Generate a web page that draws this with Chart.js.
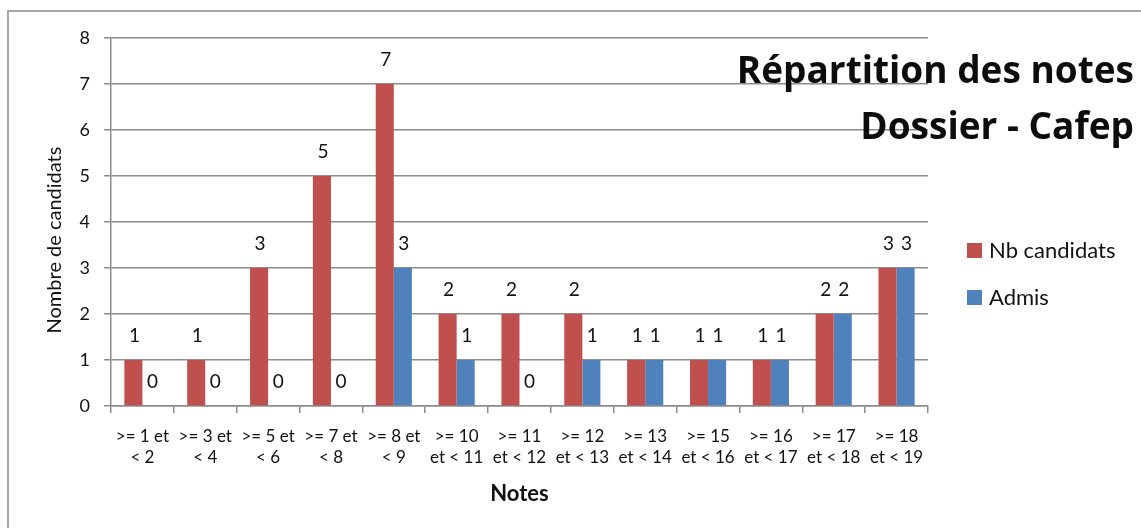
<!DOCTYPE html>
<html>
<head>
<meta charset="utf-8">
<script src="https://cdn.jsdelivr.net/npm/chart.js@4/dist/chart.umd.min.js"></script>
<style>
  html, body { margin: 0; padding: 0; background: #fff; }
  canvas { display: block; }
</style>
</head>
<body>
<canvas id="c" width="1141" height="528"></canvas>
<script>
// Grade bands (two-line labels)
const categories = [
  [">= 1 et", "< 2"],
  [">= 3 et", "< 4"],
  [">= 5 et", "< 6"],
  [">= 7 et", "< 8"],
  [">= 8 et", "< 9"],
  [">= 10", "et < 11"],
  [">= 11", "et < 12"],
  [">= 12", "et < 13"],
  [">= 13", "et < 14"],
  [">= 15", "et < 16"],
  [">= 16", "et < 17"],
  [">= 17", "et < 18"],
  [">= 18", "et < 19"]
];
const nbCandidats = [1, 1, 3, 5, 7, 2, 2, 2, 1, 1, 1, 2, 3];
const admis       = [0, 0, 0, 0, 3, 1, 0, 1, 1, 1, 1, 2, 3];
const yTicks = [0, 1, 2, 3, 4, 5, 6, 7, 8];
const seriesNames = ["Nb candidats", "Admis"];
const chartTitle = ["Répartition des notes", "Dossier - Cafep"];
const yAxisTitle = "Nombre de candidats";
const xAxisTitle = "Notes";

const RED = "#C0504D";
const BLUE = "#4F81BD";
const GRID = "#8c8c8c";
const TEXT = "#111111";
const FONT = "Lato, 'Open Sans', sans-serif";
const TITLE_FONT = "'Open Sans', Lato, sans-serif";

// Frame around the whole chart
const framePlugin = {
  id: "frame",
  beforeDraw(chart) {
    const ctx = chart.ctx;
    ctx.save();
    ctx.strokeStyle = "#a6a6a6";
    ctx.lineWidth = 2;
    ctx.strokeRect(8, 11, 1200, 600);
    ctx.restore();
  }
};

// Value labels above each bar
const valueLabels = {
  id: "valueLabels",
  afterDatasetsDraw(chart) {
    const ctx = chart.ctx;
    ctx.save();
    ctx.font = "19px " + FONT;
    ctx.fillStyle = TEXT;
    ctx.textAlign = "center";
    ctx.textBaseline = "middle";
    chart.data.datasets.forEach((ds, i) => {
      const meta = chart.getDatasetMeta(i);
      meta.data.forEach((bar, j) => {
        ctx.fillText(String(ds.data[j]), bar.x + 1, bar.y - 24);
      });
    });
    ctx.restore();
  }
};

// Title, legend and vertical axis title
const decorations = {
  id: "decorations",
  afterDraw(chart) {
    const ctx = chart.ctx;
    ctx.save();
    // title, right aligned over the plot
    ctx.font = "bold 37px " + TITLE_FONT;
    ctx.fillStyle = "#0d0d0d";
    ctx.textAlign = "right";
    ctx.textBaseline = "alphabetic";
    ctx.fillText(chartTitle[0], 1134, 83);
    ctx.fillText(chartTitle[1], 1134, 139);

    // legend
    const colors = [RED, BLUE];
    const ys = [251, 298];
    ctx.font = "22px " + FONT;
    ctx.textAlign = "left";
    ctx.textBaseline = "middle";
    chart.data.datasets.forEach((ds, i) => {
      ctx.fillStyle = colors[i];
      ctx.fillRect(967, ys[i] - 8, 15, 15);
      ctx.fillStyle = TEXT;
      ctx.fillText(ds.label, 989, ys[i]);
    });

    // y axis title
    ctx.translate(55, 240);
    ctx.rotate(-Math.PI / 2);
    ctx.textAlign = "center";
    ctx.textBaseline = "middle";
    ctx.font = "20px " + FONT;
    ctx.fillStyle = TEXT;
    ctx.fillText(yAxisTitle, 0, 0);
    ctx.restore();
  }
};

new Chart(document.getElementById("c"), {
  type: "bar",
  data: {
    labels: categories,
    datasets: [
      { label: seriesNames[0], data: nbCandidats, backgroundColor: RED,
        categoryPercentage: 0.575, barPercentage: 1.0, borderWidth: 0 },
      { label: seriesNames[1], data: admis, backgroundColor: BLUE,
        categoryPercentage: 0.575, barPercentage: 1.0, borderWidth: 0 }
    ]
  },
  options: {
    responsive: false,
    animation: false,
    layout: { padding: { left: 0, right: 213, top: 38, bottom: 0 } },
    plugins: {
      legend: { display: false },
      title: { display: false },
      tooltip: { enabled: false }
    },
    scales: {
      x: {
        grid: { display: true, drawOnChartArea: false, drawTicks: true, tickLength: 7,
                color: GRID, lineWidth: 1.5, offset: true },
        border: { color: GRID, width: 1.5 },
        ticks: { font: { family: FONT, size: 17, lineHeight: 1.235 }, color: TEXT,
                 padding: 13, maxRotation: 0, autoSkip: false },
        title: { display: true, text: xAxisTitle, color: TEXT,
                 font: { family: FONT, size: 22, weight: "bold" },
                 padding: { top: 0, bottom: 21 } },
        afterFit(scale) { scale.height = 122; }
      },
      y: {
        min: 0, max: 8,
        afterBuildTicks(scale) { scale.ticks = yTicks.map(v => ({ value: v })); },
        grid: { color: GRID, lineWidth: 1.5, tickLength: 7 },
        border: { color: GRID, width: 1.5 },
        ticks: { font: { family: FONT, size: 18 }, color: TEXT, padding: 14 },
        afterFit(scale) { scale.width = 111; }
      }
    }
  },
  plugins: [framePlugin, valueLabels, decorations]
});
</script>
</body>
</html>
